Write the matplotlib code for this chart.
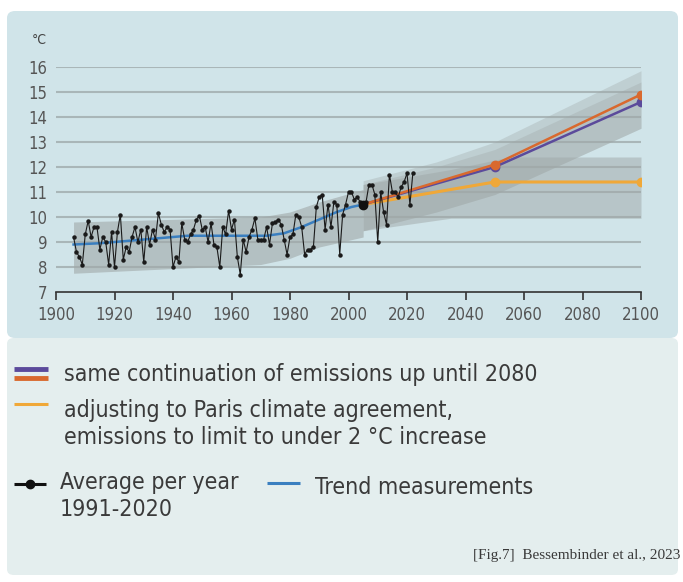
import matplotlib.pyplot as plt
from matplotlib.patches import FancyBboxPatch
from matplotlib.lines import Line2D

# annual mean temperature, 1906-2022
years = list(range(1906, 2023))
temps = [9.2, 8.6, 8.4, 8.1, 9.3, 9.85, 9.2, 9.6, 9.6, 8.7,
         9.2, 9.0, 8.1, 9.4, 8.0, 9.4, 10.1, 8.3, 8.8, 8.6,
         9.2, 9.6, 9.0, 9.5, 8.2, 9.6, 8.9, 9.5, 9.1, 10.15,
         9.7, 9.4, 9.6, 9.5, 8.0, 8.4, 8.2, 9.75, 9.1, 9.0,
         9.3, 9.5, 9.9, 10.05, 9.5, 9.6, 9.0, 9.75, 8.9, 8.8,
         8.0, 9.6, 9.3, 10.25, 9.5, 9.9, 8.4, 7.7, 9.1, 8.6,
         9.2, 9.5, 9.95, 9.1, 9.1, 9.1, 9.6, 8.9, 9.75, 9.8,
         9.9, 9.7, 9.1, 8.5, 9.2, 9.3, 10.1, 10.0, 9.6, 8.5,
         8.7, 8.7, 8.8, 10.4, 10.8, 10.9, 9.5, 10.5, 9.6, 10.6,
         10.5, 8.5, 10.1, 10.5, 11.0, 11.0, 10.7, 10.8, 10.6, 10.5,
         10.6, 11.3, 11.3, 10.9, 9.0, 11.0, 10.2, 9.7, 11.7, 11.0,
         11.0, 10.8, 11.2, 11.4, 11.75, 10.5, 11.75]

# smoothed trend of the measurements
trend_years = [1906, 1915, 1925, 1935, 1945, 1955, 1965, 1972, 1978, 1984, 1990, 1996, 2001, 2005]
trend_vals = [8.9, 8.95, 9.05, 9.15, 9.25, 9.25, 9.25, 9.25, 9.35, 9.6, 9.9, 10.2, 10.4, 10.5]

# scenario projections
proj_years = [2005, 2050, 2100]
high_purple = [10.5, 12.0, 14.6]
high_orange = [10.5, 12.1, 14.9]
paris = [10.5, 11.4, 11.4]

# uncertainty bands
hist_x = [1906, 1970, 1980, 1990, 2005]
hist_lo = [7.75, 8.1, 8.35, 8.8, 9.2]
hist_hi = [9.8, 10.0, 10.2, 10.6, 11.1]
high_x = [2005, 2030, 2050, 2100]
high_lo = [9.45, 10.2, 10.9, 13.55]
high_hi_outer = [11.45, 12.2, 13.0, 15.85]
high_hi_inner = [11.3, 12.0, 12.7, 15.4]
paris_x = [2005, 2035, 2055, 2100]
paris_lo = [9.45, 9.95, 9.95, 9.95]
paris_hi = [11.3, 11.9, 12.4, 12.4]

BG_TOP = '#d0e4e9'
BG_BOT = '#e4eeee'
BAND = '#a0a8a8'
PURPLE = '#5b4a9b'
ORANGE = '#d9692e'
YELLOW = '#f0a838'
BLUE = '#3a7fc0'
TXT = '#3a3a3a'

plt.rcParams['font.family'] = ['DejaVu Sans']
plt.rcParams['font.stretch'] = 'condensed'

W, H = 683, 582
fig = plt.figure(figsize=(W / 100, H / 100), dpi=100)
fig.patch.set_facecolor('white')

# panel backgrounds
fig.patches.append(FancyBboxPatch((7 / W, 1 - 575 / H), 671 / W, 237 / H,
                                  boxstyle='round,pad=0,rounding_size=0.01',
                                  transform=fig.transFigure, fc=BG_BOT, ec='none', zorder=-2))
fig.patches.append(FancyBboxPatch((7 / W, 1 - 338 / H), 671 / W, 327 / H,
                                  boxstyle='round,pad=0,rounding_size=0.012',
                                  transform=fig.transFigure, fc=BG_TOP, ec='none', zorder=-2))

ax = fig.add_axes([56 / W, 1 - 292 / H, 585 / W, 225 / H])
ax.set_zorder(3)
ax.set_facecolor('none')
ax.set_xlim(1900, 2100)
ax.set_ylim(7, 16)

for v in range(8, 17):
    ax.axhline(v, color='#a9b6b8', lw=1.5, zorder=1)

ax.fill_between(hist_x, hist_lo, hist_hi, color=BAND, alpha=0.6, lw=0, zorder=2)
ax.fill_between(high_x, high_lo, high_hi_outer, color=BAND, alpha=0.35, lw=0, zorder=2)
ax.fill_between(high_x, high_lo, high_hi_inner, color=BAND, alpha=0.35, lw=0, zorder=2)
ax.fill_between(paris_x, paris_lo, paris_hi, color=BAND, alpha=0.5, lw=0, zorder=2)

ax.plot(trend_years, trend_vals, color=BLUE, lw=1.8, zorder=3)
ax.plot(proj_years, paris, color=YELLOW, lw=2.2, marker='o', ms=6, markevery=[1, 2], zorder=4)
ax.plot(proj_years, high_purple, color=PURPLE, lw=1.8, marker='o', ms=6, markevery=[1, 2], zorder=4)
ax.plot(proj_years, high_orange, color=ORANGE, lw=1.8, marker='o', ms=6, markevery=[1, 2], zorder=5)
ax.plot(years, temps, color='#1a1a1a', lw=0.8, marker='o', ms=2.2, zorder=6)
ax.plot([trend_years[-1]], [trend_vals[-1]], 'o', color='#111111', ms=6, zorder=7)

for s in ['top', 'right', 'left']:
    ax.spines[s].set_visible(False)
ax.spines['bottom'].set_color('#333333')
ax.spines['bottom'].set_linewidth(1.2)
ax.set_xticks(range(1900, 2101, 20))
ax.set_yticks(range(7, 17))
ax.tick_params(axis='x', direction='out', length=6, width=1.2, color='#333333',
               labelsize=12, labelcolor='#555555', pad=4)
ax.tick_params(axis='y', length=0, labelsize=12, labelcolor='#555555', pad=6)
fig.text(32 / W, 1 - 40 / H, '°C', fontsize=10, color='#444444', va='center', ha='left')

# legend
def leg_line(x0, x1, y, **kw):
    fig.add_artist(Line2D([x0 / W, x1 / W], [1 - y / H, 1 - y / H], transform=fig.transFigure, **kw))

leg_line(14, 48, 369, color=PURPLE, lw=3.5, solid_capstyle='butt')
leg_line(14, 48, 378, color=ORANGE, lw=3.5, solid_capstyle='butt')
leg_line(14, 48, 404, color=YELLOW, lw=2.2, solid_capstyle='butt')
leg_line(14, 46, 484, color='#111111', lw=2.2, solid_capstyle='butt')
fig.add_artist(Line2D([30 / W], [1 - 484 / H], transform=fig.transFigure,
                      marker='o', ms=6, color='#111111'))
leg_line(267, 300, 483, color=BLUE, lw=2.2, solid_capstyle='butt')

fs = 16.6
fig.text(64 / W, 1 - 375 / H, 'same continuation of emissions up until 2080', fontsize=fs, color=TXT, va='center')
fig.text(64 / W, 1 - 410 / H, 'adjusting to Paris climate agreement,', fontsize=fs, color=TXT, va='center')
fig.text(64 / W, 1 - 437 / H, 'emissions to limit to under 2 °C increase', fontsize=fs, color=TXT, va='center')
fig.text(60 / W, 1 - 482 / H, 'Average per year', fontsize=fs, color=TXT, va='center')
fig.text(60 / W, 1 - 510 / H, '1991-2020', fontsize=fs, color=TXT, va='center')
fig.text(315 / W, 1 - 487 / H, 'Trend measurements', fontsize=fs, color=TXT, va='center')
fig.text(680 / W, 1 - 555 / H, '[Fig.7]  Bessembinder et al., 2023', fontsize=11, color=TXT,
         va='center', ha='right', family=['Liberation Serif', 'DejaVu Serif'], stretch='normal')

fig.savefig('out.png', dpi=100)
